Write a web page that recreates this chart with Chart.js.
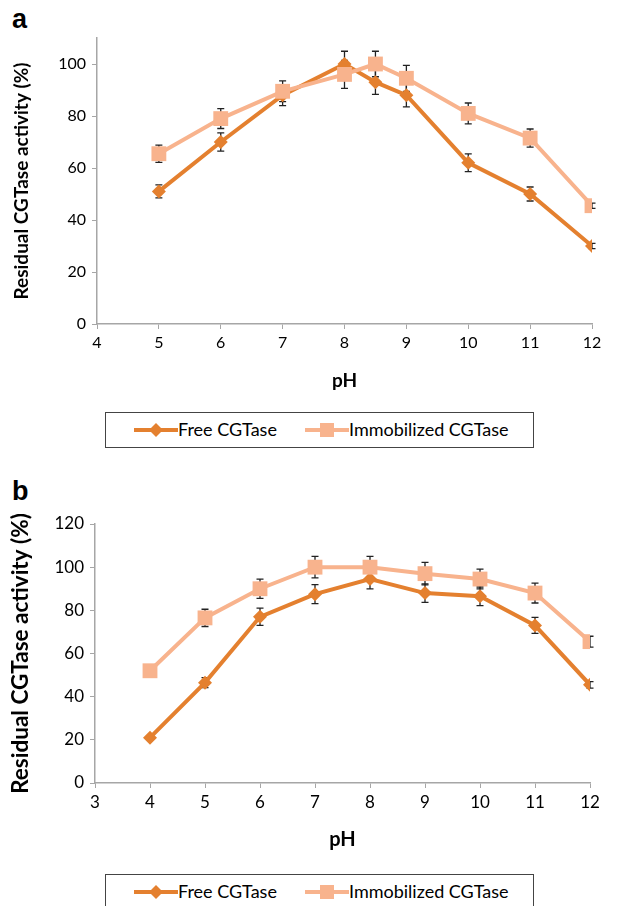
<!DOCTYPE html>
<html lang="en">
<head>
    <title>Residual CGTase activity vs pH</title>
    <meta charset="UTF-8">
    <script src="https://cdn.jsdelivr.net/npm/chart.js"></script>
    <style>
        body { margin: 0; background: #fff; font-family: Lato, "Open Sans", sans-serif; }
        .panel { position: absolute; left: 0; width: 628px; height: 400px; }
        .tag { position: absolute; left: 12px; font: bold 27px Arial, "Liberation Sans", sans-serif; color: #000; }
        .legend { position: absolute; left: 105px; width: 429px; height: 36px; border: 1.5px solid #444;
                  box-sizing: border-box; font-size: 18px; color: #000; }
        .legend span { position: absolute; top: 5px; }
        .legend svg { position: absolute; top: 8px; }
    </style>
</head>
<body>
    <div class="tag" style="top: 4px;">a</div>
    <div class="panel" style="top: 0;"><canvas id="chartA" width="628" height="400"></canvas></div>
    <div class="legend" style="top: 412px;">
        <svg width="46" height="18" style="left: 27px;"><line x1="1" y1="9" x2="45" y2="9" stroke="#E4802F" stroke-width="4"/><path d="M23 2 L30 9 L23 16 L16 9 Z" fill="#E4802F"/></svg>
        <span style="left: 72px;">Free CGTase</span>
        <svg width="46" height="18" style="left: 198px;"><line x1="1" y1="9" x2="45" y2="9" stroke="#F8B38D" stroke-width="4"/><rect x="16" y="2" width="14" height="14" fill="#F8B38D"/></svg>
        <span style="left: 243px;">Immobilized CGTase</span>
    </div>

    <div class="tag" style="top: 476px;">b</div>
    <div class="panel" style="top: 470px;"><canvas id="chartB" width="628" height="400"></canvas></div>
    <div class="legend" style="top: 874px;">
        <svg width="46" height="18" style="left: 27px;"><line x1="1" y1="9" x2="45" y2="9" stroke="#E4802F" stroke-width="4"/><path d="M23 2 L30 9 L23 16 L16 9 Z" fill="#E4802F"/></svg>
        <span style="left: 72px;">Free CGTase</span>
        <svg width="46" height="18" style="left: 198px;"><line x1="1" y1="9" x2="45" y2="9" stroke="#F8B38D" stroke-width="4"/><rect x="16" y="2" width="14" height="14" fill="#F8B38D"/></svg>
        <span style="left: 243px;">Immobilized CGTase</span>
    </div>

    <script>
        // Panel a data
        const phA = [5, 6, 7, 8, 8.5, 9, 10, 11, 12];
        const freeA = [51, 70, 88, 100, 93, 88, 62, 50, 30];
        const freeErrA = [2.5, 3.5, 4, 4.9, 4.7, 4.5, 3.4, 2.7, 1];
        const immA = [65.5, 79, 89.5, 96, 100, 94.5, 81, 71.5, 45.5];
        const immErrA = [3.3, 3.8, 4, 5.4, 4.9, 5, 4, 3.5, 1];
        const yTicksA = { min: 0, max: 110, step: 20 };
        const xTicksA = { min: 4, max: 12, step: 1 };

        // Panel b data
        const phB = [4, 5, 6, 7, 8, 9, 10, 11, 12];
        const freeB = [21, 46.5, 77, 87.5, 94.5, 88, 86.5, 73, 45.5];
        const freeErrB = [0.5, 2.3, 4, 4.4, 4.6, 4.3, 4.3, 3.7, 1.5];
        const immB = [52, 76.5, 90, 100, 100, 97, 94.5, 88, 65.5];
        const immErrB = [0.5, 4, 4.5, 5, 5, 5.2, 4.6, 4.6, 2.5];
        const yTicksB = { min: 0, max: 120, step: 20 };
        const xTicksB = { min: 3, max: 12, step: 1 };

        const freeColor = '#E4802F';
        const immColor = '#F8B38D';
        const axisColor = '#A6A6A6';

        // draws the vertical error bars with caps, under the markers
        const errorBars = {
            id: 'errorBars',
            beforeDatasetsDraw(chart) {
                const ctx = chart.ctx;
                const x = chart.scales.x, y = chart.scales.y;
                ctx.save();
                ctx.strokeStyle = '#222';
                ctx.lineWidth = 1.3;
                chart.data.datasets.forEach(ds => {
                    ds.data.forEach((p, i) => {
                        const e = ds.errors[i];
                        const px = x.getPixelForValue(p.x);
                        const top = y.getPixelForValue(p.y + e);
                        const bot = y.getPixelForValue(p.y - e);
                        ctx.beginPath();
                        ctx.moveTo(px, top); ctx.lineTo(px, bot);
                        ctx.moveTo(px - 3.5, top); ctx.lineTo(px + 3.5, top);
                        ctx.moveTo(px - 3.5, bot); ctx.lineTo(px + 3.5, bot);
                        ctx.stroke();
                    });
                });
                ctx.restore();
            }
        };

        function points(xs, ys) {
            return xs.map((v, i) => ({ x: v, y: ys[i] }));
        }

        function makeChart(id, xs, free, freeErr, imm, immErr, xt, yt, box, sizes) {
            const ctx = document.getElementById(id).getContext('2d');
            return new Chart(ctx, {
                type: 'line',
                data: {
                    datasets: [
                        {
                            label: 'Free CGTase',
                            data: points(xs, free),
                            errors: freeErr,
                            borderColor: freeColor,
                            backgroundColor: freeColor,
                            borderWidth: 4,
                            pointStyle: 'rectRot',
                            pointRadius: 7,
                            pointBorderWidth: 0,
                            order: 1,
                        },
                        {
                            label: 'Immobilized CGTase',
                            data: points(xs, imm),
                            errors: immErr,
                            borderColor: immColor,
                            backgroundColor: immColor,
                            borderWidth: 4,
                            pointStyle: 'rect',
                            pointRadius: 10.5,
                            pointBorderWidth: 0,
                            order: 0,
                        },
                    ],
                },
                options: {
                    responsive: false,
                    animation: false,
                    layout: { padding: { left: box.left, top: box.top, right: box.right, bottom: box.bottom } },
                    plugins: { legend: { display: false }, tooltip: { enabled: false } },
                    scales: {
                        x: {
                            type: 'linear',
                            min: xt.min, max: xt.max,
                            afterFit: s => { s.height = box.xHeight; },
                            ticks: { stepSize: xt.step, color: '#000', font: { family: 'Lato', size: sizes.tick }, padding: 4 },
                            grid: { drawOnChartArea: false, color: axisColor, tickLength: 5 },
                            border: { color: axisColor, width: 1.5 },
                            title: { display: true, text: 'pH', color: '#000', font: { family: 'Lato', size: sizes.ph, weight: 'bold' } },
                        },
                        y: {
                            min: yt.min, max: yt.max,
                            afterFit: s => { s.width = box.yWidth; },
                            ticks: { stepSize: yt.step, includeBounds: false, color: '#000', font: { family: 'Lato', size: sizes.tick }, padding: 6 },
                            grid: { drawOnChartArea: false, color: axisColor, tickLength: 5 },
                            border: { color: axisColor, width: 1.5 },
                            title: { display: true, text: 'Residual CGTase activity (%)', color: '#000', font: { family: 'Lato', size: sizes.title, weight: 'bold' } },
                        },
                    },
                },
                plugins: [errorBars],
            });
        }

        makeChart('chartA', phA, freeA, freeErrA, immA, immErrA, xTicksA, yTicksA,
            { left: 6, top: 38, right: 36, bottom: 4, xHeight: 72, yWidth: 91 }, { tick: 16, title: 19, ph: 19 });
        makeChart('chartB', phB, freeB, freeErrB, immB, immErrB, xTicksB, yTicksB,
            { left: 3, top: 54, right: 38, bottom: 14, xHeight: 73, yWidth: 92 }, { tick: 17, title: 22.5, ph: 20 });
    </script>
</body>
</html>
